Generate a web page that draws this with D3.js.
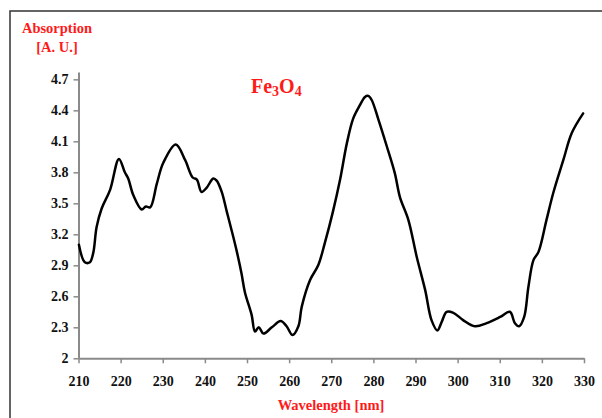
<!DOCTYPE html>
<html><head><meta charset="utf-8">
<script src="https://cdn.jsdelivr.net/npm/d3@7"></script>
<style>
html,body{margin:0;padding:0;background:#fff;}
svg{display:block;font-family:"Liberation Serif","Times New Roman",serif;}
</style></head>
<body>
<svg id="chart" width="602" height="418"></svg>
<script>
const wavelength = [210.1,211.5,212.7,213.5,214.3,215.5,217.5,219.6,221.0,221.8,223.0,225.0,226.0,227.0,228.6,230.1,233.1,235.3,237.1,238.1,
  239.2,240.4,242.0,242.8,244.0,245.2,246.4,247.6,248.7,249.5,251.1,251.9,252.8,253.9,255.9,258.0,259.4,260.8,262.2,263.0,
  265.0,266.9,268.5,270.4,272.1,273.7,275.2,276.8,278.0,278.8,279.6,281.2,283.2,285.1,286.3,288.3,290.3,292.3,293.8,295.2,
  296.2,297.4,299.0,301.3,304.1,306.9,310.1,312.4,313.6,314.6,315.8,316.8,318.0,319.2,321.1,322.7,325.1,327.1,329.8];
const absorption = [3.10,2.93,2.93,3.02,3.27,3.45,3.63,3.93,3.80,3.74,3.58,3.44,3.47,3.46,3.69,3.89,4.07,3.92,3.75,3.73,
  3.61,3.65,3.74,3.72,3.61,3.42,3.23,3.03,2.82,2.64,2.42,2.26,2.30,2.24,2.30,2.36,2.31,2.225,2.31,2.50,
  2.76,2.90,3.12,3.42,3.73,4.08,4.32,4.45,4.53,4.54,4.50,4.31,4.05,3.79,3.56,3.34,2.98,2.66,2.37,2.27,
  2.35,2.45,2.44,2.37,2.31,2.34,2.40,2.45,2.34,2.31,2.40,2.69,2.95,3.03,3.34,3.60,3.92,4.18,4.37];
const xTicks = [210,220,230,240,250,260,270,280,290,300,310,320,330];
const yTicks = [2,2.3,2.6,2.9,3.2,3.5,3.8,4.1,4.4,4.7];

const svg = d3.select("#chart");
// outer frame (top + left visible)
svg.append("path").attr("d","M10,418 L10,11 L602,11").attr("fill","none").attr("stroke","#333").attr("stroke-width",1.5);

const x = d3.scaleLinear().domain([210,330]).range([78.5,584]);
const y = d3.scaleLinear().domain([2,4.77]).range([358.3,72.1]);

const axisColor = "#8a8a8a";
const xAxis = svg.append("g").attr("transform","translate(0,358.3)")
  .call(d3.axisBottom(x).tickValues(xTicks).tickSize(5).tickSizeOuter(0).tickPadding(13).tickFormat(d3.format("d")));
const yAxis = svg.append("g").attr("transform","translate(78.5,0)")
  .call(d3.axisLeft(y).tickValues(yTicks).tickSize(5).tickSizeOuter(0).tickPadding(5).tickFormat(d=>d3.format("")(+d.toFixed(1))));
[xAxis,yAxis].forEach(g=>{
  g.select(".domain").attr("stroke",axisColor).attr("stroke-width",2);
  g.selectAll(".tick line").attr("stroke",axisColor).attr("stroke-width",1.5);
  g.selectAll(".tick text").attr("fill","#111").attr("font-size",14).attr("font-weight","bold")
   .attr("font-family","'Liberation Serif','Times New Roman',serif");
});

const pts = wavelength.map((w,i)=>[w,absorption[i]]);
const line = d3.line().x(d=>x(d[0])).y(d=>y(d[1])).curve(d3.curveCatmullRom.alpha(0.5));
svg.append("path").datum(pts).attr("d",line).attr("fill","none").attr("stroke","#000").attr("stroke-width",2.5)
  .attr("stroke-linejoin","round").attr("stroke-linecap","round");

const red = "#ff1a1a";
svg.append("text").attr("x",57).attr("y",33).attr("text-anchor","middle").attr("fill",red)
  .attr("font-size",14.5).attr("font-weight","bold").text("Absorption");
svg.append("text").attr("x",57).attr("y",52).attr("text-anchor","middle").attr("fill",red)
  .attr("font-size",14.5).attr("font-weight","bold").text("[A. U.]");
svg.append("text").attr("x",331).attr("y",410).attr("text-anchor","middle").attr("fill",red)
  .attr("font-size",14.5).attr("font-weight","bold").text("Wavelength [nm]");

const t = svg.append("text").attr("x",251).attr("y",93).attr("fill",red).attr("font-size",20).attr("font-weight","bold");
t.append("tspan").text("Fe");
t.append("tspan").attr("font-size",14).attr("dy",3).text("3");
t.append("tspan").attr("font-size",20).attr("dy",-3).text("O");
t.append("tspan").attr("font-size",14).attr("dy",3).text("4");
</script>
</body></html>
